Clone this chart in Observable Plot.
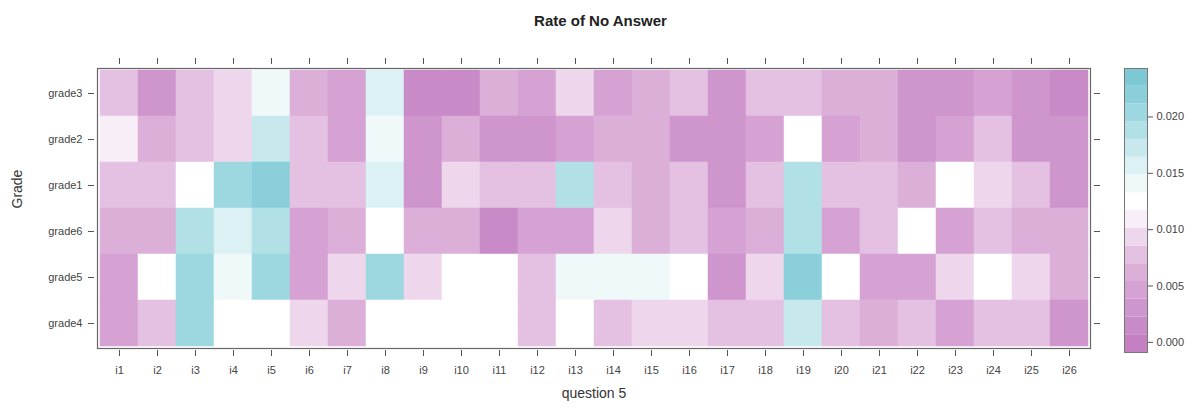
<!DOCTYPE html>
<html>
<head>
<meta charset="utf-8">
<script src="https://cdn.jsdelivr.net/npm/d3@7"></script>
<script src="https://cdn.jsdelivr.net/npm/@observablehq/plot@0.6"></script>
<style>
  html, body { margin: 0; padding: 0; background: #fff; }
  #wrap { position: relative; width: 1201px; height: 410px; overflow: hidden; font-family: "Liberation Sans", Arial, sans-serif; }
  #title { position: absolute; left: 0; top: 12px; width: 1201px; text-align: center; font-weight: bold; font-size: 15px; color: #222; }
  #main { position: absolute; left: 0; top: 0; }
  #key { position: absolute; left: 1100px; top: 0; }
</style>
</head>
<body>
<div id="wrap">
  <div id="main"></div>
  <div id="key"></div>
  <div id="title">Rate of No Answer</div>
</div>
<script>
// Categories
const items = ["i1","i2","i3","i4","i5","i6","i7","i8","i9","i10","i11","i12","i13","i14","i15","i16","i17","i18","i19","i20","i21","i22","i23","i24","i25","i26"];
const grades = ["grade3","grade2","grade1","grade6","grade5","grade4"];

// Series values (rate of no answer), one array per grade, i1..i26
const grade3 = [0.0075,0.003,0.008,0.0100,0.0135,0.006,0.005,0.0160,0.002,0.002,0.006,0.004,0.0100,0.004,0.006,0.0075,0.003,0.008,0.0075,0.006,0.006,0.003,0.003,0.004,0.003,0.002];
const grade2 = [0.0105,0.006,0.0075,0.0095,0.0165,0.0075,0.005,0.0140,0.003,0.006,0.003,0.003,0.005,0.006,0.006,0.003,0.003,0.004,0.0125,0.004,0.006,0.003,0.005,0.008,0.003,0.003];
const grade1 = [0.008,0.008,0.0125,0.0200,0.0225,0.008,0.008,0.0160,0.003,0.0100,0.008,0.008,0.0185,0.008,0.006,0.008,0.003,0.008,0.0180,0.008,0.008,0.006,0.0125,0.0100,0.008,0.003];
const grade6 = [0.006,0.006,0.0190,0.0160,0.0195,0.004,0.006,0.0125,0.006,0.006,0.002,0.004,0.005,0.0100,0.006,0.008,0.005,0.006,0.0190,0.004,0.008,0.0125,0.004,0.008,0.006,0.006];
const grade5 = [0.004,0.0125,0.0210,0.0140,0.0205,0.004,0.0100,0.0210,0.0100,0.0125,0.0125,0.008,0.0140,0.0140,0.0140,0.0125,0.003,0.0095,0.0215,0.0125,0.005,0.004,0.0095,0.0125,0.0095,0.006];
const grade4 = [0.004,0.008,0.0205,0.0125,0.0125,0.0100,0.006,0.0125,0.0125,0.0125,0.0125,0.008,0.0125,0.008,0.0100,0.0100,0.008,0.0075,0.0175,0.0075,0.006,0.0075,0.004,0.008,0.008,0.003];

// Colour key levels (lattice-style cut points) and colours
const cuts = [-0.0009,0.000675,0.00225,0.003825,0.0054,0.006975,0.00855,0.010125,0.0117,0.013275,0.01485,0.016425,0.018,0.019575,0.02115,0.022725,0.0243];
const palette = ["#c480c2","#c98ac8","#cf96cd","#d5a2d3","#dcafd9","#e4c1e2","#eed7ed","#f8eef8","#ffffff","#eff9fa","#dcf1f4","#c7e9ee","#b1e0e7","#9dd7e0","#8bcfda","#7cc8d4"];
const keyTicks = [0,0.005,0.010,0.015,0.020];

const series = {grade3, grade2, grade1, grade6, grade5, grade4};
const table = [];
for (const g of grades) series[g].forEach((v, i) => table.push({grade: g, item: items[i], value: v}));

const bands = palette.map((c, i) => ({lo: cuts[i], hi: cuts[i + 1], mid: (cuts[i] + cuts[i + 1]) / 2}));

const color = {type: "threshold", domain: cuts.slice(1, -1), range: palette};
const font = "Liberation Sans, Arial, sans-serif";

const main = Plot.plot({
  width: 1100, height: 410,
  marginLeft: 97, marginRight: 10, marginTop: 68, marginBottom: 62,
  style: {fontFamily: font, fontSize: "11px", color: "#333", background: "transparent"},
  x: {domain: items, padding: 0},
  y: {domain: grades, padding: 0},
  color,
  marks: [
    Plot.cell(table, {x: "item", y: "grade", fill: "value", inset: -0.25}),
    Plot.frame({stroke: "#666", strokeWidth: 1.2}),
    Plot.axisX({anchor: "bottom", tickSize: 6, dy: 2, tickPadding: 10, label: null, fontSize: 11, fill: "#444", stroke: "#555"}),
    Plot.axisX({anchor: "top", tickSize: 6, dy: -5, tickFormat: () => "", label: null, stroke: "#555"}),
    Plot.axisY({anchor: "left", tickSize: 6, dx: -3, tickPadding: 6, label: null, fontSize: 11, fill: "#444", stroke: "#555"}),
    Plot.axisY({anchor: "right", tickSize: 6, dx: 3, tickFormat: () => "", label: null, stroke: "#555"}),
    Plot.text(["Grade"], {frameAnchor: "left", dx: -80, rotate: -90, fontSize: 14, fill: "#333"}),
    Plot.text(["question 5"], {frameAnchor: "bottom", dy: 49, fontSize: 14, fill: "#333"})
  ]
});
document.getElementById("main").appendChild(main);

const key = Plot.plot({
  width: 101, height: 410,
  marginLeft: 24, marginRight: 54, marginTop: 68, marginBottom: 58,
  style: {fontFamily: font, fontSize: "11px", color: "#333", background: "transparent"},
  y: {domain: [cuts[0], cuts[cuts.length - 1]]},
  color,
  marks: [
    Plot.rect(bands, {y1: "lo", y2: "hi", fill: "mid"}),
    Plot.frame({stroke: "#777"}),
    Plot.axisY({anchor: "right", ticks: keyTicks, tickFormat: d3.format(".3f"), tickSize: 5, tickPadding: 4, label: null, fontSize: 11, fill: "#444", stroke: "#555"})
  ]
});
document.getElementById("key").appendChild(key);
</script>
</body>
</html>
